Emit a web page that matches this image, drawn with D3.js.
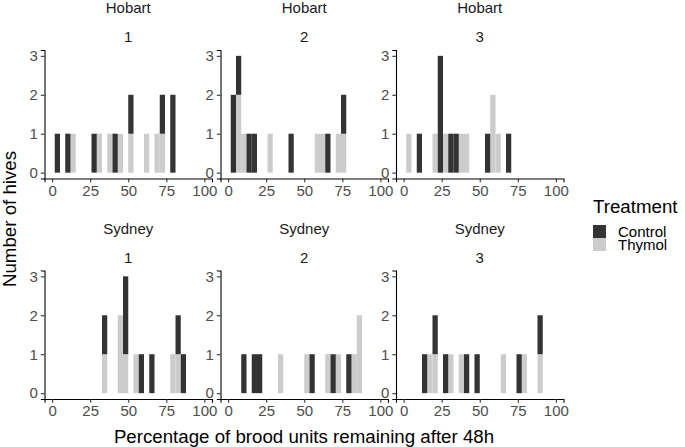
<!DOCTYPE html>
<html>
<head>
<meta charset="utf-8">
<script src="https://cdn.jsdelivr.net/npm/d3@7"></script>
<style>
  html, body { margin: 0; padding: 0; background: #fff; }
  svg { display: block; font-family: "Liberation Sans", Arial, sans-serif; }
</style>
</head>
<body>
<svg id="chart" width="685" height="447"></svg>
<script>
// ---- data (percentage of brood units remaining, one value per hive) ----
const sites = ["Hobart", "Sydney"];
const replicates = ["1", "2", "3"];
const treatments = ["Control", "Thymol"];
const xTicks = [0, 25, 50, 75, 100];
const yTicks = [0, 1, 2, 3];

const hobart1Control = [3.4, 10.3, 27.6, 41.4, 51.7, 72.4, 79.3, 79.3];
const hobart1Thymol  = [13.8, 31.0, 37.9, 44.8, 51.7, 62.1, 69.0, 72.4];
const hobart2Control = [3.4, 3.4, 6.9, 13.8, 17.2, 41.4, 65.5, 75.9];
const hobart2Thymol  = [6.9, 6.9, 10.3, 27.6, 58.6, 62.1, 72.4, 75.9];
const hobart3Control = [10.3, 24.1, 24.1, 24.1, 31.0, 34.5, 55.2, 69.0];
const hobart3Thymol  = [3.4, 20.7, 27.6, 37.9, 41.4, 58.6, 58.6, 62.1];
const sydney1Control = [34.5, 48.3, 48.3, 58.6, 65.5, 82.8, 86.2];
const sydney1Thymol  = [34.5, 44.8, 44.8, 48.3, 55.2, 79.3, 82.8];
const sydney2Control = [10.3, 17.2, 20.7, 55.2, 69.0, 79.3];
const sydney2Thymol  = [34.5, 51.7, 65.5, 72.4, 82.8, 86.2, 86.2];
const sydney3Control = [13.8, 20.7, 27.6, 41.4, 48.3, 75.9, 89.7];
const sydney3Thymol  = [17.2, 20.7, 31.0, 37.9, 65.5, 79.3, 89.7];

const panelData = [
  [[hobart1Control, hobart1Thymol], [hobart2Control, hobart2Thymol], [hobart3Control, hobart3Thymol]],
  [[sydney1Control, sydney1Thymol], [sydney2Control, sydney2Thymol], [sydney3Control, sydney3Thymol]]
];

// ---- layout ----
const colors = { Control: "#333333", Thymol: "#cccccc" };
const panelLefts = [44.5, 220.5, 396];
const panelW = 167.5;
const panelTops = [50, 270.5];
const panelH = 128.5;
const smallFont = "15px";
const titleFont = "18.7px";

const svg = d3.select("#chart");

// binning: 29 brood units -> bins centred on n/29*100
const binWidth = 100 / 29;
const thresholds = d3.range(0, 31).map(i => (i - 0.5) * binWidth);
const binner = d3.bin().domain([-binWidth / 2, 100 + binWidth / 2]).thresholds(thresholds);

sites.forEach((site, r) => {
  replicates.forEach((rep, c) => {
    const left = panelLefts[c], top = panelTops[r];
    const x = d3.scaleLinear().domain([-5, 105]).range([left, left + panelW]);
    const y = d3.scaleLinear().domain([-0.15, 3.15]).range([top + panelH, top]);

    const [ctrl, thy] = panelData[r][c];
    const bC = binner(ctrl), bT = binner(thy);
    const stacked = bC.map((b, i) => ({
      x0: b.x0, x1: b.x1, thy: bT[i].length, ctrl: b.length
    }));

    const g = svg.append("g");
    // Thymol (bottom of stack)
    g.selectAll("rect.t").data(stacked.filter(d => d.thy > 0)).join("rect")
      .attr("class", "t")
      .attr("x", d => x(d.x0)).attr("width", d => x(d.x1) - x(d.x0))
      .attr("y", d => y(d.thy)).attr("height", d => y(0) - y(d.thy))
      .attr("fill", colors.Thymol);
    // Control (top of stack)
    g.selectAll("rect.c").data(stacked.filter(d => d.ctrl > 0)).join("rect")
      .attr("class", "c")
      .attr("x", d => x(d.x0)).attr("width", d => x(d.x1) - x(d.x0))
      .attr("y", d => y(d.thy + d.ctrl)).attr("height", d => y(d.thy) - y(d.thy + d.ctrl))
      .attr("fill", colors.Control);

    // x axis
    const xa = svg.append("g").attr("transform", `translate(0,${top + panelH})`)
      .call(d3.axisBottom(x).tickValues(xTicks).tickFormat(d3.format("d"))
        .tickSizeOuter(0).tickSize(3.7).tickPadding(3));
    // y axis
    const ya = svg.append("g").attr("transform", `translate(${left},0)`)
      .call(d3.axisLeft(y).tickValues(yTicks).tickFormat(d3.format("d"))
        .tickSizeOuter(0).tickSize(3.7).tickPadding(3));
    [xa, ya].forEach(a => {
      a.select(".domain").attr("stroke", "#000").attr("stroke-width", 1.1);
      a.selectAll(".tick line").attr("stroke", "#333").attr("stroke-width", 1.1);
      a.selectAll(".tick text").attr("fill", "#4d4d4d").style("font-size", smallFont)
        .style("font-family", "Liberation Sans, Arial, sans-serif");
    });

    // strip labels
    const cx = left + panelW / 2;
    svg.append("text").attr("x", cx).attr("y", top - 37).attr("text-anchor", "middle")
      .style("font-size", smallFont).attr("fill", "#1a1a1a").text(site);
    svg.append("text").attr("x", cx).attr("y", top - 8).attr("text-anchor", "middle")
      .style("font-size", smallFont).attr("fill", "#1a1a1a").text(rep);
  });
});

// axis titles
svg.append("text").attr("x", (panelLefts[0] + panelLefts[2] + panelW) / 2).attr("y", 443)
  .attr("text-anchor", "middle").style("font-size", titleFont).attr("fill", "#000")
  .text("Percentage of brood units remaining after 48h");
svg.append("text").attr("transform", "translate(15.5,219) rotate(-90)")
  .attr("text-anchor", "middle").style("font-size", titleFont).attr("fill", "#000")
  .text("Number of hives");

// legend
const lg = svg.append("g").attr("transform", "translate(593,0)");
lg.append("text").attr("x", 0).attr("y", 213).style("font-size", titleFont).attr("fill", "#000").text("Treatment");
treatments.forEach((t, i) => {
  lg.append("rect").attr("x", 0).attr("y", 225 + i * 13).attr("width", 13).attr("height", 13).attr("fill", colors[t]);
  lg.append("text").attr("x", 25).attr("y", 237 + i * 13).style("font-size", smallFont).attr("fill", "#000").text(t);
});
</script>
</body>
</html>
